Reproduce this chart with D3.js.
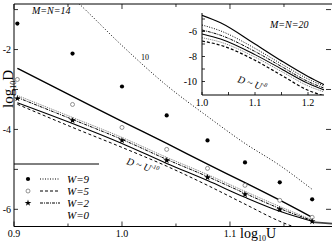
<!DOCTYPE html>
<html lang="en">
<head>
    <meta charset="UTF-8">
    <title>Diffusion vs U</title>
    <script src="https://d3js.org/d3.v7.min.js"></script>
    <style>
        body { margin: 0; background: #fff; }
        text { font-family: "Liberation Serif", "DejaVu Serif", serif; fill: #000; }
        .it { font-style: italic; }
    </style>
</head>
<body>
<svg width="332" height="242"></svg>

<script>
    // U = 8 .. 15, values as log10 U / log10 D
    var logU = [0.9031, 0.9542, 1.0, 1.0414, 1.0792, 1.1139, 1.1461, 1.1761];

    var dotsW9 = [-1.35, -2.1, -2.925, -3.65, -4.275, -4.825, -5.325, -5.75];
    var circlesW5 = [-2.75, -3.375, -3.95, -4.5, -4.975, -5.4, -5.775, -6.2];
    var starsW2 = [-3.225, -3.775, -4.275, -4.775, -5.2, -5.625, -6.0, -6.3];

    // fitted curves of the main panel
    var curveDotU = [0.9542, 0.9611, 1.0, 1.0414, 1.0792, 1.1139, 1.1461, 1.1761];
    var curveDot = [-0.7, -0.875, -1.9, -2.9, -3.675, -4.35, -4.9, -5.5];
    var curveThick = [-2.47, -3.17, -3.8, -4.35, -4.87, -5.33, -5.77, -6.2];
    var curveGrey = [-3.15, -3.7, -4.2, -4.7, -5.13, -5.55, -5.93, -6.26];
    var curveDashDot = [-3.2, -3.75, -4.25, -4.75, -5.18, -5.6, -5.98, -6.28];
    var curveSolid = [-3.33, -3.85, -4.35, -4.85, -5.28, -5.7, -6.05, -6.3];
    var curveDashed = [-3.37, -3.95, -4.45, -4.92, -5.4, -5.87, -6.3, -6.6];

    // inset M=N=20
    var insetU = [1.0, 1.035, 1.1, 1.15, 1.2, 1.235];
    var inset1 = [-4.7, -5.3, -7.0, -8.35, -9.6, -10.35];
    var inset2 = [-5.48, -5.95, -7.35, -8.6, -9.8, -10.45];
    var inset3 = [-5.88, -6.3, -7.6, -8.8, -10.0, -10.6];
    var inset4 = [-6.2, -6.6, -7.85, -9.0, -10.15, -10.75];
    var inset5 = [-6.5, -6.85, -8.05, -9.2, -10.35, -10.9];
    var inset6 = [-6.76, -7.1, -8.3, -9.5, -10.7, -11.2];

    var xTicks = [0.9, 1.0, 1.1];
    var xMinor = [0.95, 1.05, 1.15];
    var yTicks = [-2, -4, -6];
    var yMinor = [-1, -3, -5];
    var insetXTicks = [1.0, 1.1, 1.2];
    var insetYTicks = [-6, -8, -10];

    var legendNames = ["W=9", "W=5", "W=2", "W=0"];

    var svg = d3.select("svg");

    var x = d3.scaleLinear().domain([0.9, 1.1954]).range([14, 333]);
    var y = d3.scaleLinear().domain([-0.86, -6.43]).range([4, 226.5]);

    var defs = svg.append("defs");
    defs.append("clipPath").attr("id", "mainclip")
        .append("rect").attr("x", 14).attr("y", 4).attr("width", 320).attr("height", 222.5);

    function line(us, xs, ys) {
        return d3.line()
            .x(function (d, i) { return xs(us[i]); })
            .y(function (d) { return ys(d); })
            .curve(d3.curveMonotoneX);
    }

    var plot = svg.append("g").attr("clip-path", "url(#mainclip)");

    function addCurve(g, us, vals, xs, ys, width, dash, color) {
        g.append("path")
            .attr("d", line(us, xs, ys)(vals))
            .attr("fill", "none")
            .attr("stroke", color || "#000")
            .attr("stroke-width", width)
            .attr("stroke-dasharray", dash || null);
    }

    addCurve(plot, curveDotU, curveDot, x, y, 1, "1,2");
    addCurve(plot, logU, curveThick, x, y, 1.4);
    addCurve(plot, logU, curveGrey, x, y, 1, "1,1", "#777");
    addCurve(plot, logU, curveDashDot, x, y, 1, "3,1,1,1");
    addCurve(plot, logU, curveSolid, x, y, 1.1);
    addCurve(plot, logU, curveDashed, x, y, 1, "3,2.5");

    // tail at the bottom right where the curves run together
    addCurve(plot, [1.1761, 1.1955], [-6.32, -6.36], x, y, 1.6, null, "#444");

    // points
    plot.selectAll(".w9").data(dotsW9).enter().append("circle")
        .attr("cx", function (d, i) { return x(logU[i]); })
        .attr("cy", function (d) { return y(d); })
        .attr("r", 2.1).attr("fill", "#000");

    plot.selectAll(".w5").data(circlesW5).enter().append("circle")
        .attr("cx", function (d, i) { return x(logU[i]); })
        .attr("cy", function (d) { return y(d); })
        .attr("r", 2).attr("fill", "#fff").attr("stroke", "#666").attr("stroke-width", 0.7);

    var star = d3.symbol().type(d3.symbolStar).size(14);
    plot.selectAll(".w2").data(starsW2).enter().append("path")
        .attr("d", star)
        .attr("transform", function (d, i) { return "translate(" + x(logU[i]) + "," + y(d) + ")"; })
        .attr("fill", "#000");

    // frame and axes
    svg.append("path")
        .attr("d", "M333,4H14V226.5H333")
        .attr("fill", "none").attr("stroke", "#000").attr("stroke-width", 1);

    xTicks.concat(xMinor).forEach(function (t) {
        var len = xMinor.indexOf(t) >= 0 ? 3 : 5;
        svg.append("line").attr("x1", x(t)).attr("x2", x(t)).attr("y1", 226.5).attr("y2", 226.5 - len)
            .attr("stroke", "#000").attr("stroke-width", 0.8);
        svg.append("line").attr("x1", x(t)).attr("x2", x(t)).attr("y1", 4).attr("y2", 4 + len)
            .attr("stroke", "#000").attr("stroke-width", 0.8);
    });
    yTicks.concat(yMinor).forEach(function (t) {
        svg.append("line").attr("x1", 14).attr("x2", 18).attr("y1", y(t)).attr("y2", y(t))
            .attr("stroke", "#000").attr("stroke-width", 0.8);
        svg.append("line").attr("x1", 326).attr("x2", 331).attr("y1", y(t)).attr("y2", y(t))
            .attr("stroke", "#000").attr("stroke-width", 0.8);
    });

    svg.selectAll(".xl").data(xTicks).enter().append("text")
        .attr("x", function (d) { return x(d); })
        .attr("y", 237)
        .attr("text-anchor", "middle")
        .attr("font-size", 10)
        .text(function (d) { return d.toFixed(1); });

    svg.selectAll(".yl").data(yTicks).enter().append("text")
        .attr("x", 11)
        .attr("y", function (d) { return y(d) + 3.5; })
        .attr("text-anchor", "end")
        .attr("font-size", 10)
        .text(function (d) { return d; });

    var xlab = svg.append("text").attr("x", 240).attr("y", 238).attr("font-size", 14);
    xlab.append("tspan").text("log");
    xlab.append("tspan").attr("font-size", 8).attr("dy", 3).text("10");
    xlab.append("tspan").attr("dy", -3).text("U");

    var ylab = svg.append("text").attr("transform", "translate(13,89) rotate(-90)")
        .attr("text-anchor", "middle").attr("font-size", 15);
    ylab.append("tspan").text("log");
    ylab.append("tspan").attr("font-size", 8).attr("dy", 3).text("10");
    ylab.append("tspan").attr("dy", -3).text("D");

    svg.append("text").attr("class", "it").attr("x", 32).attr("y", 14).attr("font-size", 10).text("M=N=14");
    svg.append("text").attr("x", 141).attr("y", 60).attr("font-size", 8).text("10");

    var ann = svg.append("text").attr("class", "it")
        .attr("transform", "translate(126,164) rotate(18)").attr("font-size", 10);
    ann.append("tspan").text("D ~ U");
    ann.append("tspan").attr("font-size", 6).attr("dy", -4).text("-10");

    // legend
    svg.append("line").attr("x1", 14).attr("x2", 99).attr("y1", 164).attr("y2", 164)
        .attr("stroke", "#000").attr("stroke-width", 1);

    var rowY = [179, 191, 203, 215];
    var leg = svg.append("g");
    leg.append("circle").attr("cx", 28).attr("cy", rowY[0]).attr("r", 2.1).attr("fill", "#000");
    leg.append("circle").attr("cx", 28).attr("cy", rowY[1]).attr("r", 2)
        .attr("fill", "#fff").attr("stroke", "#666").attr("stroke-width", 0.7);
    leg.append("path").attr("d", star).attr("transform", "translate(28," + rowY[2] + ")");
    var legDash = ["1,1.5", "3,2", "3,1,1,1"];
    legDash.forEach(function (dash, i) {
        leg.append("line").attr("x1", 40).attr("x2", 60).attr("y1", rowY[i]).attr("y2", rowY[i])
            .attr("stroke", "#000").attr("stroke-width", 1).attr("stroke-dasharray", dash);
    });
    leg.selectAll("text").data(legendNames).enter().append("text")
        .attr("class", "it")
        .attr("x", 67)
        .attr("y", function (d, i) { return rowY[i] + 4; })
        .attr("font-size", 11)
        .text(function (d) { return d; });

    // inset
    var xi = d3.scaleLinear().domain([1.0, 1.2]).range([202, 308]);
    var yi = d3.scaleLinear().domain([-6, -10]).range([31.5, 81.5]);

    defs.append("clipPath").attr("id", "insetclip")
        .append("rect").attr("x", 202).attr("y", 13).attr("width", 122).attr("height", 82);

    svg.append("rect").attr("x", 202).attr("y", 12).attr("width", 124).attr("height", 83).attr("fill", "#fff");

    var ins = svg.append("g").attr("clip-path", "url(#insetclip)");
    addCurve(ins, insetU, inset1, xi, yi, 1.2);
    addCurve(ins, insetU, inset2, xi, yi, 1, "1,1.5");
    addCurve(ins, insetU, inset3, xi, yi, 1, "3,1,1,1");
    addCurve(ins, insetU, inset4, xi, yi, 1.1);
    addCurve(ins, insetU, inset5, xi, yi, 1, "1,1", "#777");
    addCurve(ins, insetU, inset6, xi, yi, 1.2, "3,2");

    svg.append("path").attr("d", "M202,13V95H324")
        .attr("fill", "none").attr("stroke", "#000").attr("stroke-width", 1);

    [1.0, 1.05, 1.1, 1.15, 1.2].forEach(function (t) {
        svg.append("line").attr("x1", xi(t)).attr("x2", xi(t)).attr("y1", 95).attr("y2", 92)
            .attr("stroke", "#000").attr("stroke-width", 0.8);
    });
    [-5, -6, -7, -8, -9, -10].forEach(function (t) {
        svg.append("line").attr("x1", 202).attr("x2", 205).attr("y1", yi(t)).attr("y2", yi(t))
            .attr("stroke", "#000").attr("stroke-width", 0.8);
    });

    svg.selectAll(".ixl").data(insetXTicks).enter().append("text")
        .attr("x", function (d) { return xi(d); })
        .attr("y", 106)
        .attr("text-anchor", "middle")
        .attr("font-size", 10)
        .text(function (d) { return d.toFixed(1); });

    svg.selectAll(".iyl").data(insetYTicks).enter().append("text")
        .attr("x", 197)
        .attr("y", function (d) { return yi(d) + 3.5; })
        .attr("text-anchor", "end")
        .attr("font-size", 10)
        .text(function (d) { return d; });

    svg.append("text").attr("class", "it").attr("x", 270).attr("y", 28).attr("font-size", 10).text("M=N=20");

    var ann2 = svg.append("text").attr("class", "it")
        .attr("transform", "translate(237,82) rotate(18)").attr("font-size", 10);
    ann2.append("tspan").text("D ~ U");
    ann2.append("tspan").attr("font-size", 6).attr("dy", -4).text("-8");
</script>

</body>
</html>
